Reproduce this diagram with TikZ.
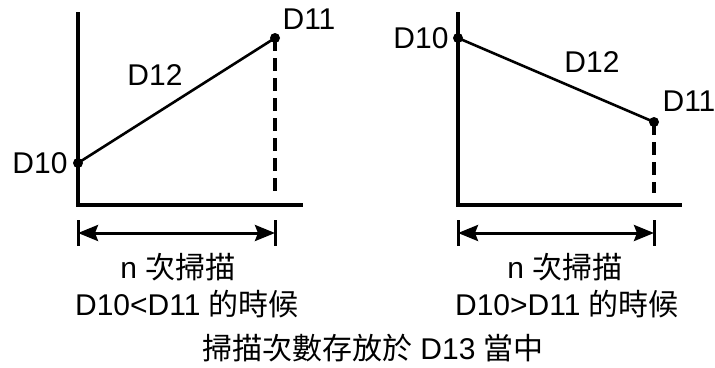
\documentclass[tikz,border=0pt]{standalone}
\usepackage{fontspec}
\setmainfont{Liberation Sans}
\newfontfamily\cjk{Noto Sans CJK TC}
\usetikzlibrary{arrows.meta,positioning}

\begin{document}
\begin{tikzpicture}[
			x=1pt, y=-1pt,
			font=\fontsize{30}{34}\selectfont,
			>={Stealth[length=20pt,width=16pt,inset=3pt]},
			axis/.style={line width=3.6pt},
			slope/.style={line width=2.6pt},
			guide/.style={line width=3.4pt, dash pattern=on 13pt off 7pt},
			tickline/.style={line width=3pt},
			span/.style={<->, line width=3pt},
			dot/.style={circle, fill=black, inner sep=0pt, minimum size=10pt},
			val/.style={inner sep=0pt},
			txt/.style={inner sep=0pt, align=center}
			]
			\useasboundingbox (0,0) rectangle (715,367);
			
			%% ── Left graph: D10 < D11 ───────────────────────────────────────────
			\coordinate (oL) at (78, 205);
			\draw[axis] (78, 12) -- (78, 207);
			\draw[axis] (oL) -- (303, 205);
			
			\node[dot] (d10L) at (78, 163) {};
			\node[dot] (d11L) at (275, 38) {};
			\draw[slope] (d10L.center) -- (d11L.center);
			\draw[guide] (d11L.center) -- (275, 193);
			
			\node[val] (lab10L) at (40, 163) {D10};
			\node[val] (lab11L) at (309, 19) {D11};
			\node[val] (lab12L) at (155, 75) {D12};
			
			\draw[tickline] (78, 220) -- (78, 246);
			\draw[tickline] (275, 220) -- (275, 246);
			\draw[span] (78, 233) -- (275, 233);
			
			\node[txt] (scanL) at (178, 267) {n {\cjk 次掃描}};
			\node[txt] (condL) at (187, 304) {D10<D11 {\cjk 的時候}};
			
			%% ── Right graph: D10 > D11 ──────────────────────────────────────────
			\coordinate (oR) at (458, 205);
			\draw[axis] (458, 12) -- (458, 207);
			\draw[axis] (oR) -- (682, 205);
			
			\node[dot] (d10R) at (458, 38) {};
			\node[dot] (d11R) at (654, 122) {};
			\draw[slope] (d10R.center) -- (d11R.center);
			\draw[guide] (d11R.center) -- (654, 193);
			
			\node[val] (lab10R) at (421, 38) {D10};
			\node[val] (lab11R) at (689, 101) {D11};
			\node[val] (lab12R) at (592, 62) {D12};
			
			\draw[tickline] (458, 220) -- (458, 246);
			\draw[tickline] (654, 220) -- (654, 246);
			\draw[span] (458, 233) -- (654, 233);
			
			\node[txt] (scanR) at (565, 267) {n {\cjk 次掃描}};
			\node[txt] (condR) at (567, 304) {D10>D11 {\cjk 的時候}};
			
			%% ── Common note ─────────────────────────────────────────────────────
			\node[txt] (note) at (373, 348) {{\cjk 掃描次數存放於} D13 {\cjk 當中}};
			
		\end{tikzpicture}
\end{document}
